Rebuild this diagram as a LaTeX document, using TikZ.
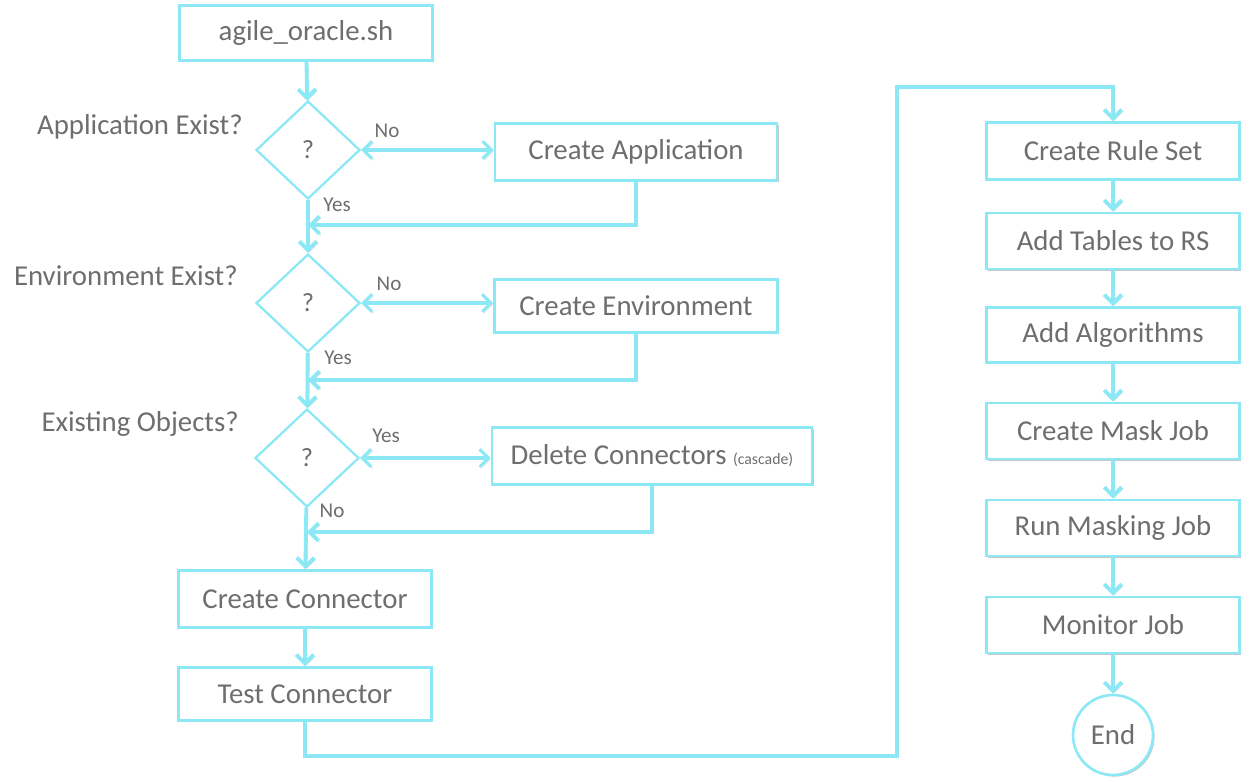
\documentclass[tikz,border=0pt]{standalone}
\usepackage{fontspec}
\setmainfont{Carlito}
\usetikzlibrary{arrows.meta,shapes.geometric,shadows}
\definecolor{cy}{RGB}{140,232,245}
\definecolor{tx}{RGB}{110,110,110}
\begin{document}
\begin{tikzpicture}[x=0.02cm,y=-0.02cm,
  shad/.style={drop shadow={shadow xshift=0.9pt,shadow yshift=-0.9pt,opacity=0.22,fill=black}},
  box/.style={draw=cy,line width=1.5pt,fill=white,text=tx,inner sep=0pt,
    font=\fontsize{16.4}{19}\selectfont,shad},
  dia/.style={diamond,draw=cy,line width=1.3pt,fill=white,text=tx,inner sep=0pt,
    minimum width=2.08cm,minimum height=1.96cm,font=\fontsize{15}{18}\selectfont},
  q/.style={text=tx,font=\fontsize{16.4}{19}\selectfont,anchor=east},
  yn/.style={text=tx,font=\fontsize{12}{14}\selectfont},
  lshad/.style={preaction={draw=black,opacity=0.12,transform canvas={shift={(0.9pt,-0.9pt)}}}},
  arr/.style={draw=cy,line width=2.2pt,lshad,-{Straight Barb[length=5pt,width=10pt]}},
  dbl/.style={draw=cy,line width=1.8pt,lshad,{Straight Barb[length=5pt,width=10pt]}-{Straight Barb[length=5pt,width=10pt]}}]
\useasboundingbox (0,0) rectangle (1250,781);

% left column
\node[box,minimum width=5.06cm,minimum height=1.1cm] (start) at (306,33) {agile\_oracle.sh};
\node[dia] (d1) at (308,150) {?};
\node[q] (q1) at (249,127) {Application Exist?};
\node[box,minimum width=5.64cm,minimum height=1.14cm] (capp) at (636,152) {Create Application};
\node[yn] (no1) at (387,131) {No};
\node[yn] (yes1) at (337,205) {Yes};
\coordinate (j1) at (308,225);

\node[dia] (d2) at (308,303) {?};
\node[q] (q2) at (244,276) {Environment Exist?};
\node[box,minimum width=5.66cm,minimum height=1.06cm] (cenv) at (636,306) {Create Environment};
\node[yn] (no2) at (389,284) {No};
\node[yn] (yes2) at (338,358) {Yes};
\coordinate (j2) at (308,380);

\node[dia] (d3) at (307,458) {?};
\node[q] (q3) at (245,424) {Existing Objects?};
\node[box,minimum width=6.4cm,minimum height=1.14cm] (del) at (652,456) {Delete Connectors {\fontsize{9}{11}\selectfont (cascade)}};
\node[yn] (yes3) at (386,436) {Yes};
\node[yn] (no3) at (332,511) {No};
\coordinate (j3) at (307,532);

\node[box,minimum width=5.06cm,minimum height=1.14cm] (cc) at (305,599) {Create Connector};
\node[box,minimum width=5.06cm,minimum height=1.06cm] (tc) at (305,694) {Test Connector};

% right column
\node[box,minimum width=5.06cm,minimum height=1.14cm] (crs) at (1113,151) {Create Rule Set};
\node[box,minimum width=5.06cm,minimum height=1.12cm] (atr) at (1113,241) {Add Tables to RS};
\node[box,minimum width=5.06cm,minimum height=1.1cm] (aal) at (1113,335) {Add Algorithms};
\node[box,minimum width=5.06cm,minimum height=1.12cm] (cmj) at (1113,431) {Create Mask Job};
\node[box,minimum width=5.06cm,minimum height=1.12cm] (rmj) at (1113,528) {Run Masking Job};
\node[box,minimum width=5.06cm,minimum height=1.12cm] (mj) at (1113,625) {Monitor Job};
\node[box,circle,minimum size=1.6cm] (end) at (1113,735) {End};

\coordinate (c1) at (897,756);
\coordinate (c2) at (1113,87);

% connectors
\draw[arr] (start) -- (d1);
\draw[dbl] (d1.east) -- (d1.east -| capp.west);
\draw[arr] (capp.south) |- (j1);
\draw[arr] (d1) -- (d2);
\draw[dbl] (d2.east) -- (d2.east -| cenv.west);
\draw[arr] (cenv.south) |- (j2);
\draw[arr] (d2) -- (d3);
\draw[dbl] (d3.east) -- (d3.east -| del.west);
\draw[arr] (del.south) |- (j3);
\draw[arr] (d3) -- (cc);
\draw[arr] (cc) -- (tc);
\draw[arr] (tc.south) |- (c1) |- (c2) -- (crs.north);
\draw[arr] (crs) -- (atr);
\draw[arr] (atr) -- (aal);
\draw[arr] (aal) -- (cmj);
\draw[arr] (cmj) -- (rmj);
\draw[arr] (rmj) -- (mj);
\draw[arr] (mj) -- (end);
\end{tikzpicture}
\end{document}
